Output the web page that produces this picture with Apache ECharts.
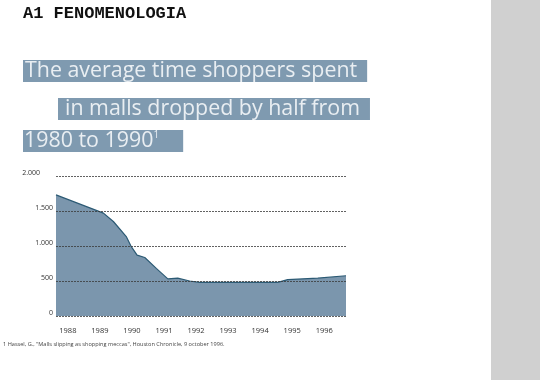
<!DOCTYPE html>
<html><head><meta charset="utf-8">
<script src="https://cdn.jsdelivr.net/npm/echarts@6/dist/echarts.min.js"></script>
<style>html,body{margin:0;padding:0;background:#fff}#c{width:540px;height:380px}</style>
</head><body><div id="c"></div>
<script>
// Years (x) and minutes spent in malls (y)
const years  = [1987.63, 1989.11, 1989.42, 1989.83, 1989.98, 1990.16, 1990.40, 1990.76, 1991.12, 1991.43, 1991.80, 1992.10, 1994.55, 1994.86, 1995.80, 1996.68];
const values = [1730, 1470, 1350, 1130, 990, 870, 835, 680, 530, 540, 500, 480, 480, 520, 540, 575];
const yearTicks = [1988, 1989, 1990, 1991, 1992, 1993, 1994, 1995, 1996];
const yTicks = [0, 500, 1000, 1500, 2000];
const yTickLabels = ['0', '500', '1.000', '1.500', '2.000'];

const data = years.map((y, i) => [y, values[i]]);
const chart = echarts.init(document.getElementById('c'), null, {renderer: 'canvas'});
const boxColor = '#7f9ab0';
const boxText = {color: '#e9eef2', fontFamily: 'Open Sans', fontSize: 21.4, fontWeight: 'normal', lineHeight: 22};
chart.setOption({
  backgroundColor: '#ffffff',
  animation: false,
  graphic: [
    {type: 'rect', shape: {x: 491, y: 0, width: 49, height: 380}, style: {fill: '#d0d0d0'}, z: 0}
  ],
  title: [
    {text: 'A1 FENOMENOLOGIA', left: 23, top: 5, padding: 0,
     textStyle: {fontFamily: 'Liberation Mono', fontWeight: 'bold', fontSize: 17, color: '#111'}},
    {text: 'The average time shoppers spent', left: 23, top: 60, padding: [0, 10, 0, 2], backgroundColor: boxColor, textStyle: boxText},
    {text: 'in malls dropped by half from', left: 58, top: 98, padding: [0, 10, 0, 7], backgroundColor: boxColor, textStyle: boxText},
    {text: '1980 to 1990{s|1}', left: 23, top: 130, padding: [0, 24, 0, 1], backgroundColor: boxColor,
     textStyle: Object.assign({}, boxText, {rich: {s: {fontSize: 10, color: '#e9eef2', verticalAlign: 'top', lineHeight: 22, padding: [0,0,10,0]}}})},
    {text: '1 Hassel, G., "Malls slipping as shopping meccas", Houston Chronicle, 9 october 1996.', left: 3, top: 341, padding: 0,
     textStyle: {fontFamily: 'Open Sans', fontSize: 5.6, fontWeight: 'normal', color: '#444'}}
  ],
  grid: {left: 56, right: 194, top: 176, bottom: 64, containLabel: false},
  xAxis: {
    type: 'value', min: 1987.63, max: 1996.68,
    axisLine: {show: false}, axisTick: {show: false}, splitLine: {show: false},
    axisLabel: {customValues: yearTicks, formatter: v => String(v), fontFamily: 'Open Sans', fontSize: 7.5, color: '#333', margin: 11}
  },
  yAxis: {
    type: 'value', min: 0, max: 2000, interval: 500, z: 5,
    axisLine: {show: false}, axisTick: {show: false},
    splitLine: {show: true, lineStyle: {color: '#3a3a3a', width: 0.8, type: [2, 1]}},
    axisLabel: {
      margin: 3, fontFamily: 'Open Sans', fontSize: 7, color: '#333', padding: [0, 0, 7, 0],
      formatter: v => { const i = yTicks.indexOf(v); const t = yTickLabels[i]; return v === 2000 ? '{a|' + t + '}' : t; },
      rich: {a: {fontFamily: 'Open Sans', fontSize: 7, color: '#333', padding: [0, 13, 0, 0]}}
    }
  },
  series: [{
    type: 'line', data: data, symbol: 'none', z: 2,
    lineStyle: {color: '#2c5a74', width: 1.2},
    areaStyle: {color: '#7b96ad', opacity: 1}
  }]
});
</script></body></html>
